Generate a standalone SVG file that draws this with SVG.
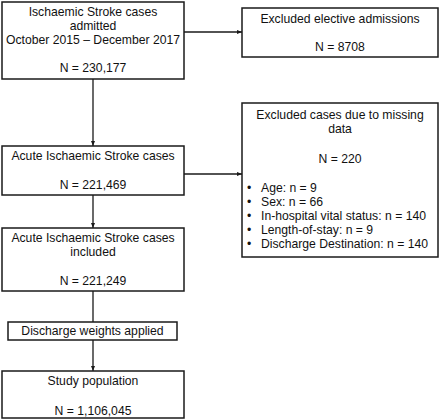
<svg xmlns="http://www.w3.org/2000/svg" width="440" height="420" viewBox="0 0 440 420">
<defs>
<style>
.box{fill:#fff;stroke:#1a1a1a;stroke-width:1.5}
.t{font-family:"Liberation Sans",Arial,sans-serif;font-size:12.2px;fill:#111;text-anchor:middle}
.l{text-anchor:start}
.c{fill:none;stroke:#1a1a1a;stroke-width:1.3}
</style>
<marker id="ah" markerWidth="6" markerHeight="6" refX="5" refY="3" orient="auto" markerUnits="userSpaceOnUse">
<path d="M0,1 L5,3 L0,5 Z" fill="#1a1a1a"/>
</marker>
</defs>
<rect width="440" height="420" fill="#fff"/>
<g id="connectors">
<line class="c" x1="184" y1="32" x2="242" y2="32" marker-end="url(#ah)"/>
<line class="c" x1="93" y1="79" x2="93" y2="146" marker-end="url(#ah)"/>
<line class="c" x1="184" y1="174" x2="242" y2="174" marker-end="url(#ah)"/>
<line class="c" x1="93" y1="195" x2="93" y2="228" marker-end="url(#ah)"/>
<line class="c" x1="93" y1="291" x2="93" y2="322"/>
<line class="c" x1="93" y1="340" x2="93" y2="371" marker-end="url(#ah)"/>
</g>
<g id="admitted">
<rect class="box" x="2" y="2" width="182" height="77"/>
<text class="t" x="93" y="16">Ischaemic Stroke cases</text>
<text class="t" x="93" y="30">admitted</text>
<text class="t" x="93" y="44">October 2015 – December 2017</text>
<text class="t" x="93" y="72">N = 230,177</text>
</g>
<g id="elective">
<rect class="box" x="242" y="8" width="196" height="49"/>
<text class="t" x="340" y="23">Excluded elective admissions</text>
<text class="t" x="340" y="51">N = 8708</text>
</g>
<g id="acute">
<rect class="box" x="2" y="146" width="182" height="49"/>
<text class="t" x="93" y="160">Acute Ischaemic Stroke cases</text>
<text class="t" x="93" y="189">N = 221,469</text>
</g>
<g id="missing">
<rect class="box" x="242" y="103" width="196" height="154"/>
<text class="t" x="340" y="119">Excluded cases due to missing</text>
<text class="t" x="340" y="133">data</text>
<text class="t" x="340" y="163">N = 220</text>
<text class="t l" x="247" y="192">•</text>
<text class="t l" x="261" y="192">Age: n = 9</text>
<text class="t l" x="247" y="206">•</text>
<text class="t l" x="261" y="206">Sex: n = 66</text>
<text class="t l" x="247" y="220">•</text>
<text class="t l" x="261" y="220">In-hospital vital status: n = 140</text>
<text class="t l" x="247" y="234">•</text>
<text class="t l" x="261" y="234">Length-of-stay: n = 9</text>
<text class="t l" x="247" y="248">•</text>
<text class="t l" x="261" y="248">Discharge Destination: n = 140</text>
</g>
<g id="included">
<rect class="box" x="2" y="228" width="182" height="63"/>
<text class="t" x="93" y="242">Acute Ischaemic Stroke cases</text>
<text class="t" x="93" y="256">included</text>
<text class="t" x="93" y="285">N = 221,249</text>
</g>
<g id="weights">
<rect class="box" x="8" y="322" width="169" height="18"/>
<text class="t" x="92.5" y="335">Discharge weights applied</text>
</g>
<g id="study">
<rect class="box" x="2" y="371" width="182" height="47"/>
<text class="t" x="93" y="385">Study population</text>
<text class="t" x="93" y="415">N = 1,106,045</text>
</g>
</svg>
